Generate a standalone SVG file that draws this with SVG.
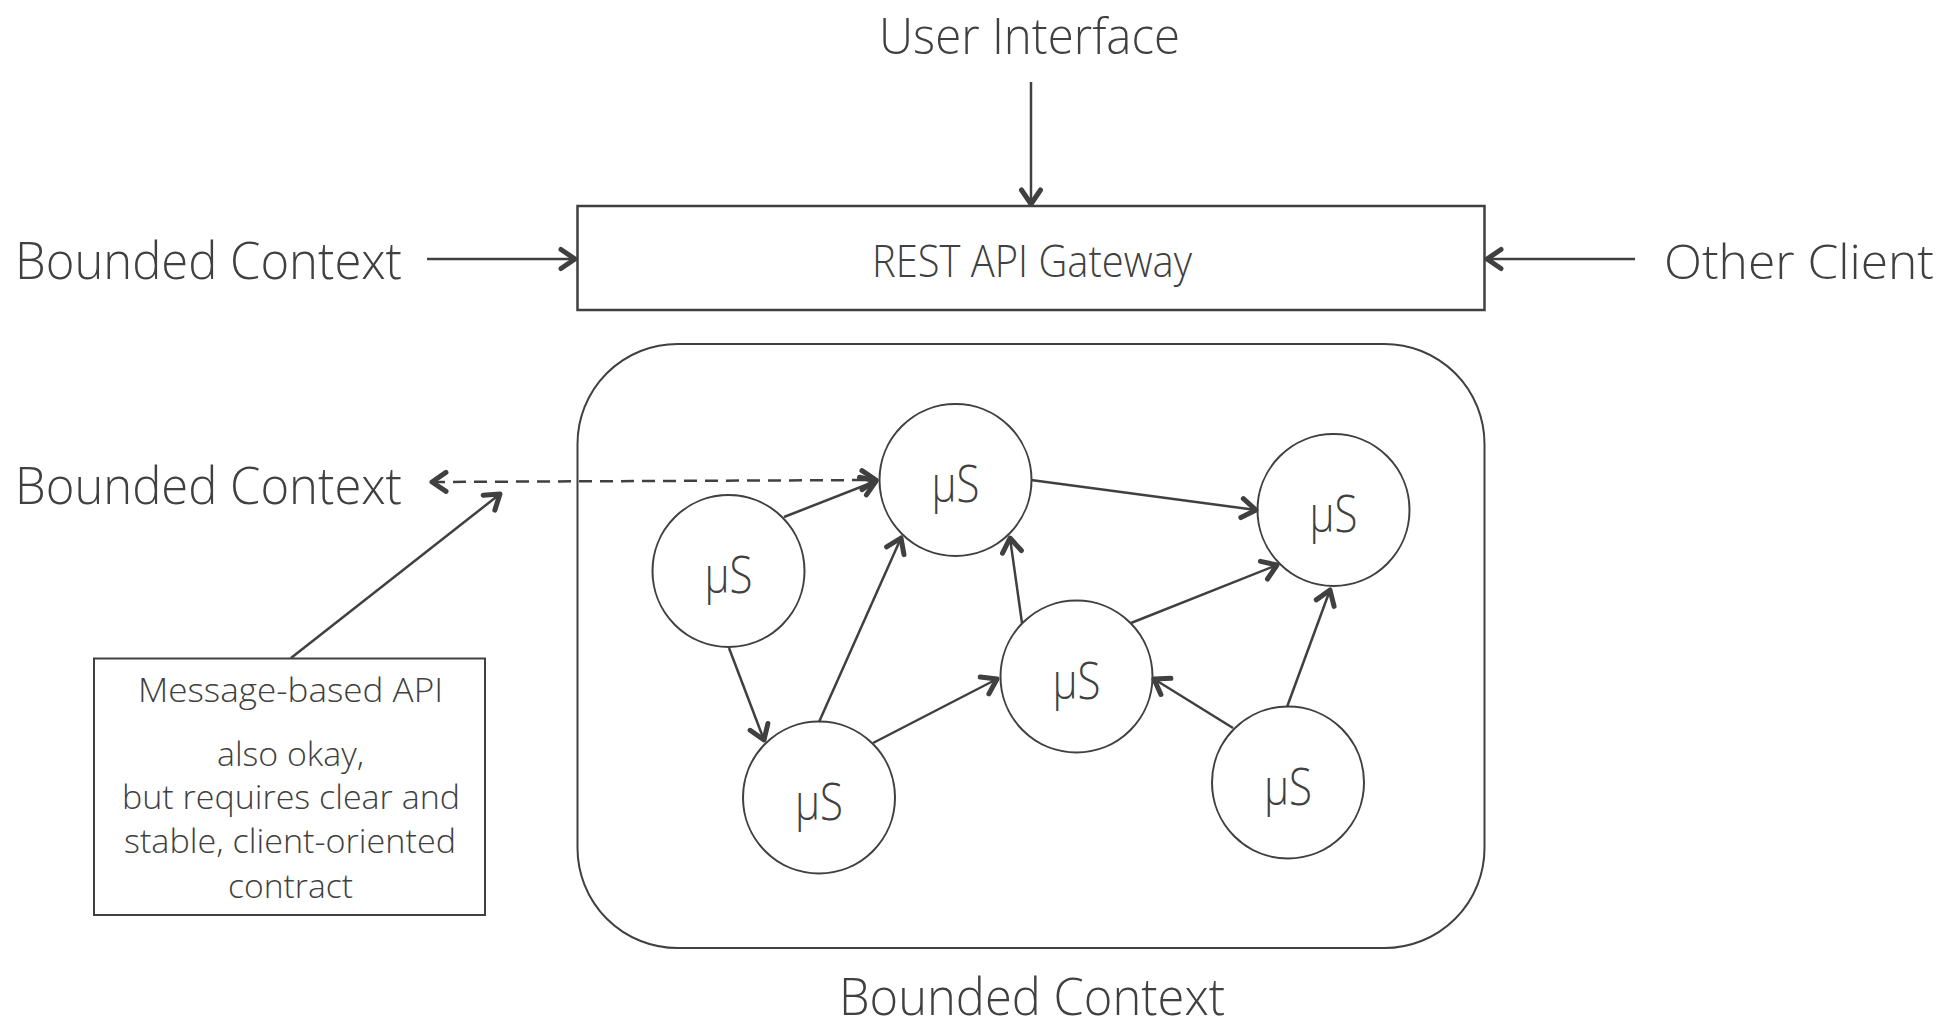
<svg xmlns="http://www.w3.org/2000/svg" width="1939" height="1028" viewBox="0 0 1939 1028">
  <defs>
    <style>
      .lbl { font-family: "Open Sans", "Noto Sans", "DejaVu Sans", sans-serif; font-weight: 300; fill: #404040; }
      .big { font-size: 52px; }
      .gw { font-size: 44px; }
      .note { font-size: 33px; }
      .ms { font-size: 52px; text-anchor: middle; }
      .node { fill: #ffffff; stroke: #404040; stroke-width: 2; }
      .edge { fill: none; stroke: #404040; stroke-width: 2.5; marker-end: url(#arr); }
      .dash { fill: none; stroke: #404040; stroke-width: 2.5; stroke-dasharray: 13 8; marker-start: url(#arr); marker-end: url(#arr); }
    </style>
    <marker id="arr" markerUnits="userSpaceOnUse" viewBox="-20 -15 30 30" markerWidth="30" markerHeight="30" refX="0" refY="0" orient="auto-start-reverse" overflow="visible">
      <path d="M-14,-9.5 L0,0 L-14,9.5" fill="none" stroke="#404040" stroke-width="5" stroke-linecap="round" stroke-linejoin="round"/>
    </marker>
  </defs>

  <rect width="1939" height="1028" fill="#ffffff"/>

  <!-- outer labels -->
  <g id="user-interface"><text class="lbl big" x="879" y="54" style="font-size:50px" textLength="301" lengthAdjust="spacingAndGlyphs">User Interface</text></g>
  <g id="bc-top-left"><text class="lbl big" x="15" y="279" textLength="387" lengthAdjust="spacingAndGlyphs">Bounded Context</text></g>
  <g id="other-client"><text class="lbl big" x="1934" y="279" text-anchor="end" style="font-size:48px" textLength="270" lengthAdjust="spacingAndGlyphs">Other Client</text></g>
  <g id="bc-mid-left"><text class="lbl big" x="15" y="504" textLength="387" lengthAdjust="spacingAndGlyphs">Bounded Context</text></g>

  <!-- gateway -->
  <g id="gateway">
    <rect x="577.5" y="206" width="907" height="104" fill="#ffffff" stroke="#404040" stroke-width="2.5"/>
    <text class="lbl gw" x="872" y="277" textLength="320" lengthAdjust="spacingAndGlyphs">REST API Gateway</text>
  </g>

  <!-- bounded context container -->
  <g id="bounded-context">
    <rect x="577.5" y="344" width="907" height="604" rx="100" ry="100" fill="none" stroke="#404040" stroke-width="2"/>
    <text class="lbl big" x="839" y="1015" textLength="386" lengthAdjust="spacingAndGlyphs">Bounded Context</text>
  </g>

  <!-- note box -->
  <g id="message-api-note">
    <rect x="94" y="658.5" width="391" height="256.5" fill="#ffffff" stroke="#404040" stroke-width="2"/>
    <text class="lbl note" x="138" y="702" textLength="305" lengthAdjust="spacingAndGlyphs">Message-based API</text>
    <text class="lbl note" x="217" y="766" textLength="147" lengthAdjust="spacingAndGlyphs">also okay,</text>
    <text class="lbl note" x="122" y="809" textLength="338" lengthAdjust="spacingAndGlyphs">but requires clear and</text>
    <text class="lbl note" x="124" y="853" textLength="332" lengthAdjust="spacingAndGlyphs">stable, client-oriented</text>
    <text class="lbl note" x="228" y="898" textLength="125" lengthAdjust="spacingAndGlyphs">contract</text>
  </g>

  <!-- microservices -->
  <g id="ms-a"><circle class="node" cx="955.5" cy="480" r="76"/><text class="lbl ms" x="955.5" y="502" textLength="48" lengthAdjust="spacingAndGlyphs">μS</text></g>
  <g id="ms-b"><circle class="node" cx="728.5" cy="571" r="76"/><text class="lbl ms" x="728.5" y="593" textLength="48" lengthAdjust="spacingAndGlyphs">μS</text></g>
  <g id="ms-c"><circle class="node" cx="819" cy="797.5" r="76"/><text class="lbl ms" x="819" y="819.5" textLength="48" lengthAdjust="spacingAndGlyphs">μS</text></g>
  <g id="ms-d"><circle class="node" cx="1076.5" cy="676.5" r="76"/><text class="lbl ms" x="1076.5" y="698.5" textLength="48" lengthAdjust="spacingAndGlyphs">μS</text></g>
  <g id="ms-e"><circle class="node" cx="1333.5" cy="510" r="76"/><text class="lbl ms" x="1333.5" y="532" textLength="48" lengthAdjust="spacingAndGlyphs">μS</text></g>
  <g id="ms-f"><circle class="node" cx="1288" cy="782.5" r="76"/><text class="lbl ms" x="1288" y="804.5" textLength="48" lengthAdjust="spacingAndGlyphs">μS</text></g>

  <!-- connectors -->
  <g id="connectors">
    <path class="edge" d="M1031,82 L1031,204"/>
    <path class="edge" d="M427,259 L575,259"/>
    <path class="edge" d="M1635,259 L1487,259"/>
    <path class="dash" d="M432,482 L876,480"/>
    <path class="edge" d="M291,658 L500,494"/>
    <path class="edge" d="M784,517 L876,481"/>
    <path class="edge" d="M729,648 L764,740"/>
    <path class="edge" d="M819,722 L901,538"/>
    <path class="edge" d="M873,743 L997,679"/>
    <path class="edge" d="M1022,623 L1010,538"/>
    <path class="edge" d="M1031,480 L1256,510"/>
    <path class="edge" d="M1131,623 L1277,565"/>
    <path class="edge" d="M1233,728 L1154,679"/>
    <path class="edge" d="M1287,707 L1330,590"/>
  </g>
</svg>
